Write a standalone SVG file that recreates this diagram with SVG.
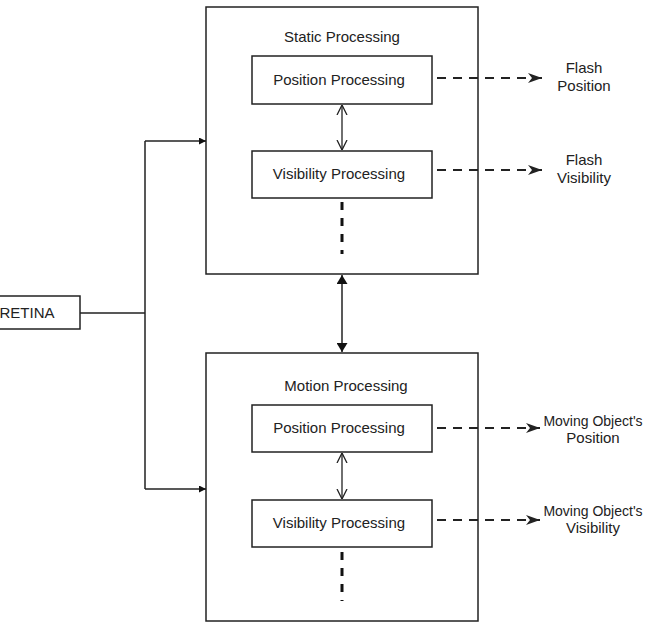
<svg xmlns="http://www.w3.org/2000/svg" width="645" height="624" viewBox="0 0 645 624">
<style>
.box{fill:#fff;stroke:#222;stroke-width:1.5}
.t{font-family:"Liberation Sans",Arial,sans-serif;font-size:15px;fill:#222;text-anchor:middle}
.s{font-size:14px}
.ln{stroke:#222;stroke-width:1.5;fill:none}
.dash{stroke:#222;stroke-width:1.8;fill:none;stroke-dasharray:9 7}
.dot{stroke:#111;stroke-width:3;fill:none;stroke-dasharray:8 8}
.thin{stroke:#222;stroke-width:1.3;fill:none}
</style>
<defs>
<marker id="solid" viewBox="0 0 10 10" refX="10" refY="5" markerWidth="7" markerHeight="7" orient="auto-start-reverse" markerUnits="userSpaceOnUse">
<path d="M0,0 L10,5 L0,10 Z" fill="#111"/>
</marker>
<marker id="solidL" viewBox="0 0 10 10" refX="10" refY="5" markerWidth="9" markerHeight="11" orient="auto-start-reverse" markerUnits="userSpaceOnUse" preserveAspectRatio="none">
<path d="M0,0 L10,5 L0,10 Z" fill="#111"/>
</marker>
<marker id="feather" viewBox="0 0 14 10" refX="14" refY="5" markerWidth="14" markerHeight="10" orient="auto" markerUnits="userSpaceOnUse">
<path d="M0,0 L14,5 L0,10 L4,5 Z" fill="#222"/>
</marker>
<marker id="chev" viewBox="0 0 10 12" refX="10" refY="6" markerWidth="10" markerHeight="12" orient="auto-start-reverse" markerUnits="userSpaceOnUse">
<path d="M0,1 L10,6 L0,11" fill="none" stroke="#222" stroke-width="1.3"/>
</marker>
</defs>

<g id="static-processing">
<rect class="box" x="206" y="7" width="272" height="267"/>
<text class="t" x="342" y="42">Static Processing</text>
</g>
<g id="static-position">
<rect class="box" x="252" y="56" width="180" height="48"/>
<text class="t" x="339" y="85">Position Processing</text>
</g>
<g id="static-visibility">
<rect class="box" x="252" y="151" width="180" height="47"/>
<text class="t" x="339" y="179">Visibility Processing</text>
</g>

<g id="motion-processing">
<rect class="box" x="206" y="353" width="272" height="268"/>
<text class="t" x="346" y="391">Motion Processing</text>
</g>
<g id="motion-position">
<rect class="box" x="252" y="405" width="180" height="47"/>
<text class="t" x="339" y="433">Position Processing</text>
</g>
<g id="motion-visibility">
<rect class="box" x="252" y="500" width="180" height="47"/>
<text class="t" x="339" y="528">Visibility Processing</text>
</g>

<g id="retina">
<rect class="box" x="-10" y="296" width="90" height="33"/>
<text class="t" x="27" y="318">RETINA</text>
</g>

<g id="outputs">
<text class="t" x="584" y="73">Flash</text>
<text class="t" x="584" y="91">Position</text>
<text class="t" x="584" y="165">Flash</text>
<text class="t" x="584" y="183">Visibility</text>
<text class="t s" x="593" y="426">Moving Object's</text>
<text class="t" x="593" y="443">Position</text>
<text class="t s" x="593" y="516">Moving Object's</text>
<text class="t" x="593" y="533">Visibility</text>
</g>

<g id="connectors">
<path class="ln" d="M80,313 H145 M145,141 V489"/>
<path class="ln" d="M145,141 H206" marker-end="url(#solid)"/>
<path class="ln" d="M145,489 H206" marker-end="url(#solid)"/>
<path class="ln" d="M342,275 V352" marker-start="url(#solidL)" marker-end="url(#solidL)"/>
<path class="thin" d="M342,105 V150" marker-start="url(#chev)" marker-end="url(#chev)"/>
<path class="thin" d="M342,453 V499" marker-start="url(#chev)" marker-end="url(#chev)"/>
<path class="dot" d="M342,202 V254"/>
<path class="dot" d="M342,552 V601"/>
<path class="dash" d="M437,78 H542" marker-end="url(#feather)"/>
<path class="dash" d="M437,170 H542" marker-end="url(#feather)"/>
<path class="dash" d="M437,428 H540" marker-end="url(#feather)"/>
<path class="dash" d="M437,520 H540" marker-end="url(#feather)"/>
</g>
</svg>
